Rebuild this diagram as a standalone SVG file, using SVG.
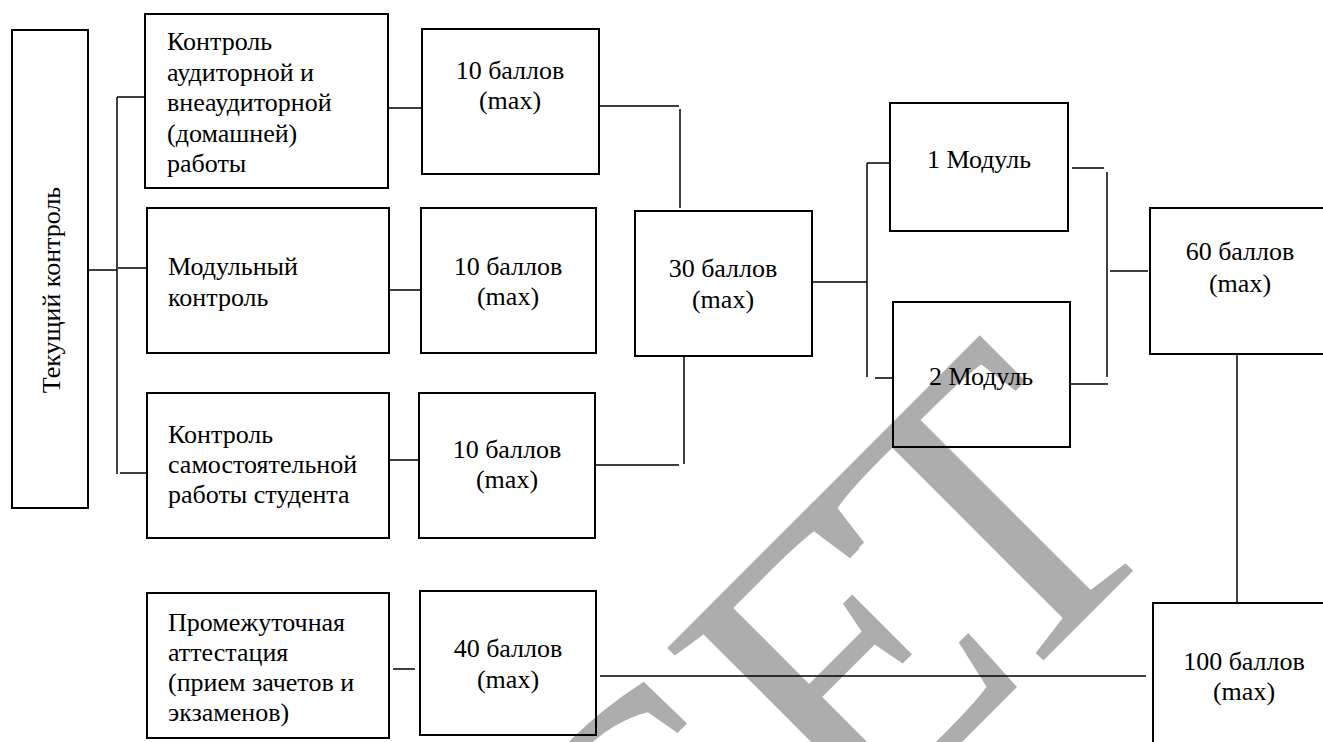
<svg xmlns="http://www.w3.org/2000/svg" width="1323" height="742" viewBox="0 0 1323 742">
<style>
.box{fill:none;stroke:#000;stroke-width:2}
.ln{fill:none;stroke:#000;stroke-width:1.5}
.t{font-family:"Liberation Serif","Times New Roman",serif;font-size:26px;fill:#000}
.c{text-anchor:middle}
.wm{font-family:"Liberation Serif","Times New Roman",serif;font-size:420px;fill:#adadad}
</style>
<rect width="1323" height="742" fill="#fff"/>
<g id="watermark"><text class="wm" transform="translate(655,1049) rotate(-45)">СЕ<tspan dx="-52">Т</tspan></text></g>
<g id="connectors">
<path class="ln" d="M88,270H117M117,97V474M117,97H145M118,268H147M120,473H147M388,108H422M390,290H421M389,460H419M600,106H679M680,109V208M684,356V464M595,465H679M813,282H867M867,163V377M867,163H890M875,378H893M1072,168H1104M1107,172V377M1070,384H1108M1110,271H1148M1237,354V603M393,669H415M600,676H1146"/>
</g>
<g id="n_tek"><rect class="box" x="12" y="30" width="76" height="478"/><text class="t c" transform="translate(60,290) rotate(-90)">Текущий контроль</text></g>
<g id="n_a1"><rect class="box" x="145" y="14" width="243" height="174"/><text class="t"><tspan x="167" y="50">Контроль</tspan><tspan x="167" y="81">аудиторной и</tspan><tspan x="167" y="111">внеаудиторной</tspan><tspan x="167" y="142">(домашней)</tspan><tspan x="167" y="172">работы</tspan></text></g>
<g id="n_a2"><rect class="box" x="147" y="208" width="242" height="145"/><text class="t"><tspan x="168" y="275">Модульный</tspan><tspan x="168" y="306">контроль</tspan></text></g>
<g id="n_a3"><rect class="box" x="147" y="393" width="242" height="145"/><text class="t"><tspan x="168" y="443">Контроль</tspan><tspan x="168" y="473">самостоятельной</tspan><tspan x="168" y="503">работы студента</tspan></text></g>
<g id="n_b1"><rect class="box" x="422" y="29" width="177" height="145"/><text class="t c"><tspan x="510" y="79">10 баллов</tspan><tspan x="510" y="109">(max)</tspan></text></g>
<g id="n_b2"><rect class="box" x="421" y="208" width="175" height="145"/><text class="t c"><tspan x="508" y="275">10 баллов</tspan><tspan x="508" y="305">(max)</tspan></text></g>
<g id="n_b3"><rect class="box" x="419" y="393" width="176" height="145"/><text class="t c"><tspan x="507" y="458">10 баллов</tspan><tspan x="507" y="488">(max)</tspan></text></g>
<g id="n_c"><rect class="box" x="635" y="211" width="177" height="145"/><text class="t c"><tspan x="723" y="277">30 баллов</tspan><tspan x="723" y="308">(max)</tspan></text></g>
<g id="n_m1"><rect class="box" x="890" y="103" width="178" height="128"/><text class="t c" x="979" y="168">1 Модуль</text></g>
<g id="n_m2"><rect class="box" x="893" y="302" width="177" height="145"/><text class="t c" x="981" y="385">2 Модуль</text></g>
<g id="n_60"><rect class="box" x="1150" y="208" width="180" height="146"/><text class="t c"><tspan x="1240" y="260">60 баллов</tspan><tspan x="1240" y="292">(max)</tspan></text></g>
<g id="n_pr"><rect class="box" x="147" y="593" width="242" height="145"/><text class="t"><tspan x="168" y="631">Промежуточная</tspan><tspan x="168" y="661">аттестация</tspan><tspan x="168" y="691">(прием зачетов и</tspan><tspan x="168" y="721">экзаменов)</tspan></text></g>
<g id="n_40"><rect class="box" x="420" y="591" width="176" height="144"/><text class="t c"><tspan x="508" y="657">40 баллов</tspan><tspan x="508" y="688">(max)</tspan></text></g>
<g id="n_100"><rect class="box" x="1153" y="603" width="200" height="200"/><text class="t c"><tspan x="1244" y="670">100 баллов</tspan><tspan x="1244" y="700">(max)</tspan></text></g>
</svg>
